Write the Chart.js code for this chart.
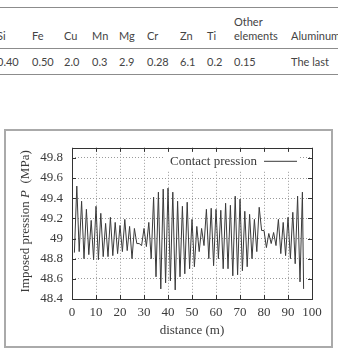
<!DOCTYPE html>
<html>
<head>
<meta charset="utf-8">
<script src="https://cdn.jsdelivr.net/npm/chart.js@4.4.1/dist/chart.umd.min.js"></script>
<style>
  html, body { margin: 0; padding: 0; background: #fff; width: 338px; height: 350px; overflow: hidden; }
  #table { position: absolute; left: 0; top: 0; width: 338px; height: 80px; font-family: Lato, "Open Sans", sans-serif; font-size: 11px; color: #444; }
  .cell { position: absolute; white-space: nowrap; line-height: 13px; }
  .rule { position: absolute; left: 0; width: 338px; background: #8c8c8c; }
  #box { position: absolute; left: 4px; top: 129px; width: 325px; height: 215px; border: 2px solid #aaa; }
  #wrap { position: relative; width: 325px; height: 215px; }
</style>
</head>
<body>
<div id="table"></div>
<div id="box"><div id="wrap"><canvas id="c"></canvas></div></div>
<script>
// ---- table data ----
const tableHeads = ["Si", "Fe", "Cu", "Mn", "Mg", "Cr", "Zn", "Ti", "Other\nelements", "Aluminum"];
const tableValues = ["0.40", "0.50", "2.0", "0.3", "2.9", "0.28", "6.1", "0.2", "0.15", "The last"];

// ---- chart data ----
const distance = [1,2,3,4,5,6,7,8,9,10,11,12,13,14,15,16,17,18,19,20,21,22,23,24,25,26,27,28,29,30,31,32,33,34,35,36,37,38,39,40,41,42,43,44,45,46,47,48,49,50,51,52,53,54,55,56,57,58,59,60,61,62,63,64,65,66,67,68,69,70,71,72,73,74,75,76,77,78,79,80,81,82,83,84,85,86,87,88,89,90,91,92,93,94,95,96,96.5];
const pressure = [48.86,49.52,48.87,49.37,48.80,49.29,48.84,49.18,48.79,49.32,48.79,49.25,48.82,49.15,48.82,49.21,48.83,49.16,48.85,49.13,48.87,49.19,48.88,49.12,48.80,49.10,48.95,48.95,48.93,49.10,48.92,49.16,48.80,49.41,48.62,49.46,48.50,49.49,48.56,49.50,48.58,49.46,48.49,49.37,48.62,49.32,48.65,49.36,48.70,49.19,48.72,49.12,48.87,49.10,48.93,49.29,48.80,49.30,48.73,49.29,48.80,49.28,48.70,49.35,48.70,49.33,48.63,49.42,48.64,49.39,48.68,49.27,48.72,49.24,48.80,49.19,48.87,49.31,49.08,49.08,48.91,49.05,48.95,49.06,48.93,49.19,48.85,49.16,48.83,49.21,48.80,49.26,48.75,49.42,48.57,49.46,48.50];
const seriesLabel = "Contact pression";
const xTicks = [0,10,20,30,40,50,60,70,80,90,100];
const yTicks = [48.4,48.6,48.8,49,49.2,49.4,49.6,49.8];
const yTickLabels = ["48.4","48.6","48.8","49","49.2","49.4","49.6","49.8"];
const xTitle = "distance (m)";
const yTitleParts = [["Imposed pression ", false], ["P", true], ["  (MPa)", false]];

// ---- build table ----
(function () {
  const t = document.getElementById('table');
  const lefts = [-3, 32, 64, 92, 119, 147, 180, 207, 234, 291];
  function rule(top, h) { const d = document.createElement('div'); d.className = 'rule'; d.style.top = top + 'px'; d.style.height = h + 'px'; t.appendChild(d); }
  rule(7, 1); rule(48, 1); rule(73.5, 1.5);
  tableHeads.forEach((h, i) => {
    const lines = h.split('\n');
    lines.forEach((ln, j) => {
      const d = document.createElement('div'); d.className = 'cell';
      d.style.left = lefts[i] + 'px';
      d.style.top = (29 - (lines.length - 1 - j) * 14.5) + 'px';
      d.textContent = ln; t.appendChild(d);
    });
  });
  tableValues.forEach((v, i) => {
    const d = document.createElement('div'); d.className = 'cell';
    d.style.left = lefts[i] + 'px'; d.style.top = '55px';
    d.textContent = v; t.appendChild(d);
  });
})();

const SERIF = '"Liberation Serif", "Times New Roman", serif';
const TXT = '#3a3a3a';

const framePlugin = {
  id: 'frame',
  afterDatasetsDraw(chart) {
    const { ctx, chartArea: a, scales } = chart;
    ctx.save();
    // legend
    ctx.font = '13px ' + SERIF;
    const label = chart.data.datasets[0].label;
    const tw = ctx.measureText(label).width;
    const textRight = a.right - 55;
    ctx.fillStyle = '#fff';
    ctx.fillRect(textRight - tw - 5, a.top + 4, a.right - 14 - (textRight - tw - 5), 19);
    ctx.fillStyle = TXT;
    ctx.textAlign = 'right'; ctx.textBaseline = 'middle';
    ctx.fillText(label, textRight, a.top + 13.5);
    ctx.strokeStyle = '#3a3a3a'; ctx.lineWidth = 1;
    ctx.beginPath(); ctx.moveTo(a.right - 48, a.top + 13.5); ctx.lineTo(a.right - 15, a.top + 13.5); ctx.stroke();
    // frame
    ctx.strokeStyle = '#333'; ctx.lineWidth = 1;
    ctx.strokeRect(Math.round(a.left) + 0.5, Math.round(a.top) + 0.5, Math.round(a.right - a.left), Math.round(a.bottom - a.top));
    // inward ticks
    const L = 4;
    ctx.beginPath();
    scales.x.ticks.forEach(t => {
      const px = Math.round(scales.x.getPixelForValue(t.value)) + 0.5;
      ctx.moveTo(px, a.bottom); ctx.lineTo(px, a.bottom - L);
      ctx.moveTo(px, a.top); ctx.lineTo(px, a.top + L);
    });
    scales.y.ticks.forEach(t => {
      const py = Math.round(scales.y.getPixelForValue(t.value)) + 0.5;
      ctx.moveTo(a.left, py); ctx.lineTo(a.left + L, py);
      ctx.moveTo(a.right, py); ctx.lineTo(a.right - L, py);
    });
    ctx.stroke();
    ctx.restore();
  },
  afterDraw(chart) {
    const { ctx, chartArea: a } = chart;
    ctx.save();
    ctx.translate(20, (a.top + a.bottom) / 2 - 2);
    ctx.rotate(-Math.PI / 2);
    ctx.textBaseline = 'middle'; ctx.textAlign = 'left'; ctx.fillStyle = TXT;
    let total = 0;
    const widths = yTitleParts.map(([s, it]) => { ctx.font = (it ? 'italic ' : '') + '13px ' + SERIF; const w = ctx.measureText(s).width; total += w; return w; });
    let x = -total / 2;
    yTitleParts.forEach(([s, it], i) => { ctx.font = (it ? 'italic ' : '') + '13px ' + SERIF; ctx.fillText(s, x, 0); x += widths[i]; });
    ctx.restore();
  }
};

new Chart(document.getElementById('c'), {
  type: 'line',
  data: {
    datasets: [{
      label: seriesLabel,
      data: distance.map((d, i) => ({ x: d, y: pressure[i] })),
      borderColor: '#3a3a3a',
      borderWidth: 1,
      pointRadius: 0,
      tension: 0,
      fill: false
    }]
  },
  options: {
    responsive: true,
    maintainAspectRatio: false,
    animation: false,
    layout: { padding: { top: 11, right: 19, left: 0, bottom: 0 } },
    plugins: { legend: { display: false }, tooltip: { enabled: false } },
    scales: {
      x: {
        type: 'linear', min: 0, max: 100,
        afterBuildTicks: s => { s.ticks = xTicks.map(v => ({ value: v })); },
        afterFit: s => { s.height = 47; },
        ticks: { color: TXT, font: { family: SERIF, size: 13 }, padding: 6, maxRotation: 0, callback: v => String(v) },
        grid: { color: '#9a9a9a', lineWidth: 1, drawTicks: false },
        border: { display: false, dash: [1, 2] },
        title: { display: true, text: xTitle, color: TXT, font: { family: SERIF, size: 13 }, padding: { top: 0, bottom: 8 } }
      },
      y: {
        type: 'linear', min: 48.4, max: 49.9,
        afterBuildTicks: s => { s.ticks = yTicks.map(v => ({ value: v })); },
        afterFit: s => { s.width = 66; },
        ticks: { color: TXT, font: { family: SERIF, size: 13 }, padding: 9, callback: (v, i) => yTickLabels[i] },
        grid: { color: '#9a9a9a', lineWidth: 1, drawTicks: false },
        border: { display: false, dash: [1, 2] }
      }
    }
  },
  plugins: [framePlugin]
});
</script>
</body>
</html>
